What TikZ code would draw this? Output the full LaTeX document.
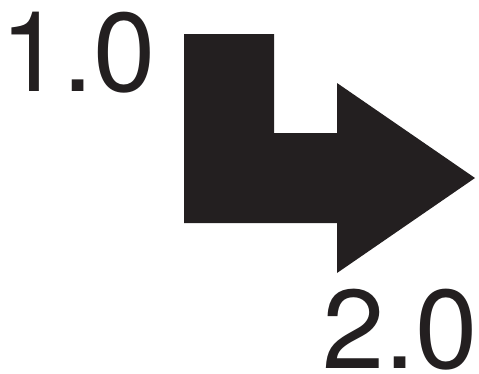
\documentclass[tikz,border=0pt]{standalone}
\usepackage{fontspec}
\setmainfont{TeX Gyre Heros}
\usepackage{xcolor}
\definecolor{inkblack}{HTML}{231F20}
\usetikzlibrary{positioning}

\begin{document}
\begin{tikzpicture}[x=1pt, y=-1pt,
        version/.style={inner sep=0pt, text=inkblack, font=\fontsize{112}{112}\selectfont},
        bentarrow/.style={fill=inkblack, draw=none}
        ]
        \useasboundingbox (0,0) rectangle (479,373);

        % ---------------- Labels ----------------
        \node[version, anchor=base west] (old) at (0,91)  {1.0};
        \node[version, anchor=base east] (new) at (478,368) {2.0};

        % ---------------- Bent arrow ----------------
        \fill[bentarrow] (184,34) -- (274,34) -- (274,133) -- (337,133) -- (337,83)
                -- (475,178) -- (337,273) -- (337,223) -- (184,223) -- cycle;

\end{tikzpicture}
\end{document}
